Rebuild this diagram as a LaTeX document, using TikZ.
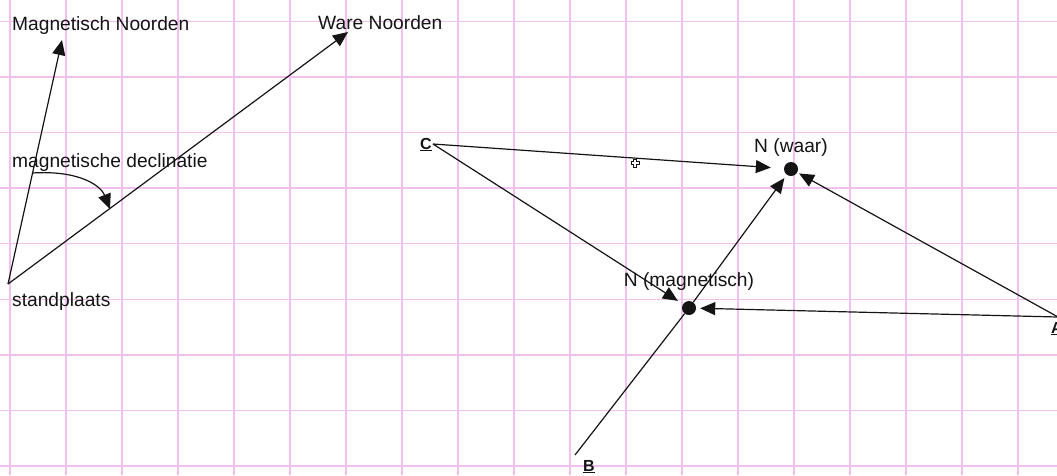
\documentclass[tikz,border=0pt]{standalone}
\usepackage{fontspec}
\setmainfont{Liberation Sans}
\usetikzlibrary{positioning, arrows.meta}
\definecolor{gridpink}{RGB}{241, 192, 239}
\definecolor{ink}{RGB}{20, 20, 20}

\begin{document}
\begin{tikzpicture}[
      x=1pt, y=-1pt,
      font=\fontsize{19.2}{23}\selectfont,
      gridline/.style={draw=gridpink, line width=1.5pt},
      vec/.style={-{Triangle[length=15pt, width=13pt]}, line width=1.2pt, draw=ink},
      plainline/.style={line width=1.2pt, draw=ink},
      dot/.style={circle, fill=ink, minimum size=14pt, inner sep=0pt},
      lbl/.style={inner sep=0pt, anchor=base west, text=ink},
      pointlbl/.style={inner sep=0pt, anchor=base west, text=ink, font=\fontsize{16}{19}\selectfont\bfseries}
    ]
      \useasboundingbox (0,0) rectangle (1057,475);

      % Grid paper
      \foreach \i in {0,...,18}
        \draw[gridline] ({10+56*\i},0) -- ({10+56*\i},475);
      \foreach \j in {0,...,8}
        \draw[gridline] (0,{21.3+55.6*\j}) -- (1057,{21.3+55.6*\j});

      % Left: declination
      \coordinate (stand) at (8,284);
      \coordinate (magN) at (62,40);
      \coordinate (wareN) at (348,32);
      \coordinate (decStart) at (32,173);
      \coordinate (decEnd) at (110,209);

      \node[lbl] (magNtxt) at (12,30) {Magnetisch Noorden};
      \node[lbl] (wareNtxt) at (318,29) {Ware Noorden};
      \node[lbl] (dectxt) at (12,167) {magnetische declinatie};
      \node[lbl] (standtxt) at (12,306) {standplaats};

      \draw[vec] (stand) -- (magN);
      \draw[vec] (stand) -- (wareN);
      \draw[vec] (decStart) .. controls (80,170) and (101,186) .. (decEnd);

      % Right: points
      \coordinate (C) at (433,144);
      \coordinate (B) at (575,455);
      \coordinate (A) at (1058,317);
      \node[dot] (nwaar) at (791,169) {};
      \node[dot] (nmag) at (689,308) {};
      \node[lbl, above=5pt of nwaar, anchor=south] (nwaartxt) {N (waar)};
      \node[lbl, above=10pt of nmag, anchor=south] (nmagtxt) {N (magnetisch)};
      \node[pointlbl] (Ctxt) at (420,149) {\underline{C}};
      \node[pointlbl] (Btxt) at (583,471) {\underline{B}};
      \node[pointlbl] (Atxt) at (1051,333) {\underline{A}};

      % Edges
      \draw[vec, shorten >=13pt] (C) -- (nwaar);
      \draw[vec, shorten >=6pt] (C) -- (nmag);
      \draw[plainline] (B) -- (nmag);
      \draw[vec, shorten >=4pt] (nmag) -- (nwaar);
      \draw[vec, shorten >=2pt] (A) -- (nwaar);
      \draw[vec, shorten >=4pt] (A) -- (nmag);

      % small cursor mark
      \draw[ink, line width=0.6pt] (633.5,159) -- (636.5,159) -- (636.5,161.5) -- (639,161.5) -- (639,164.5)
        -- (636.5,164.5) -- (636.5,167) -- (633.5,167) -- (633.5,164.5) -- (631,164.5) -- (631,161.5)
        -- (633.5,161.5) -- cycle;
    \end{tikzpicture}
\end{document}
